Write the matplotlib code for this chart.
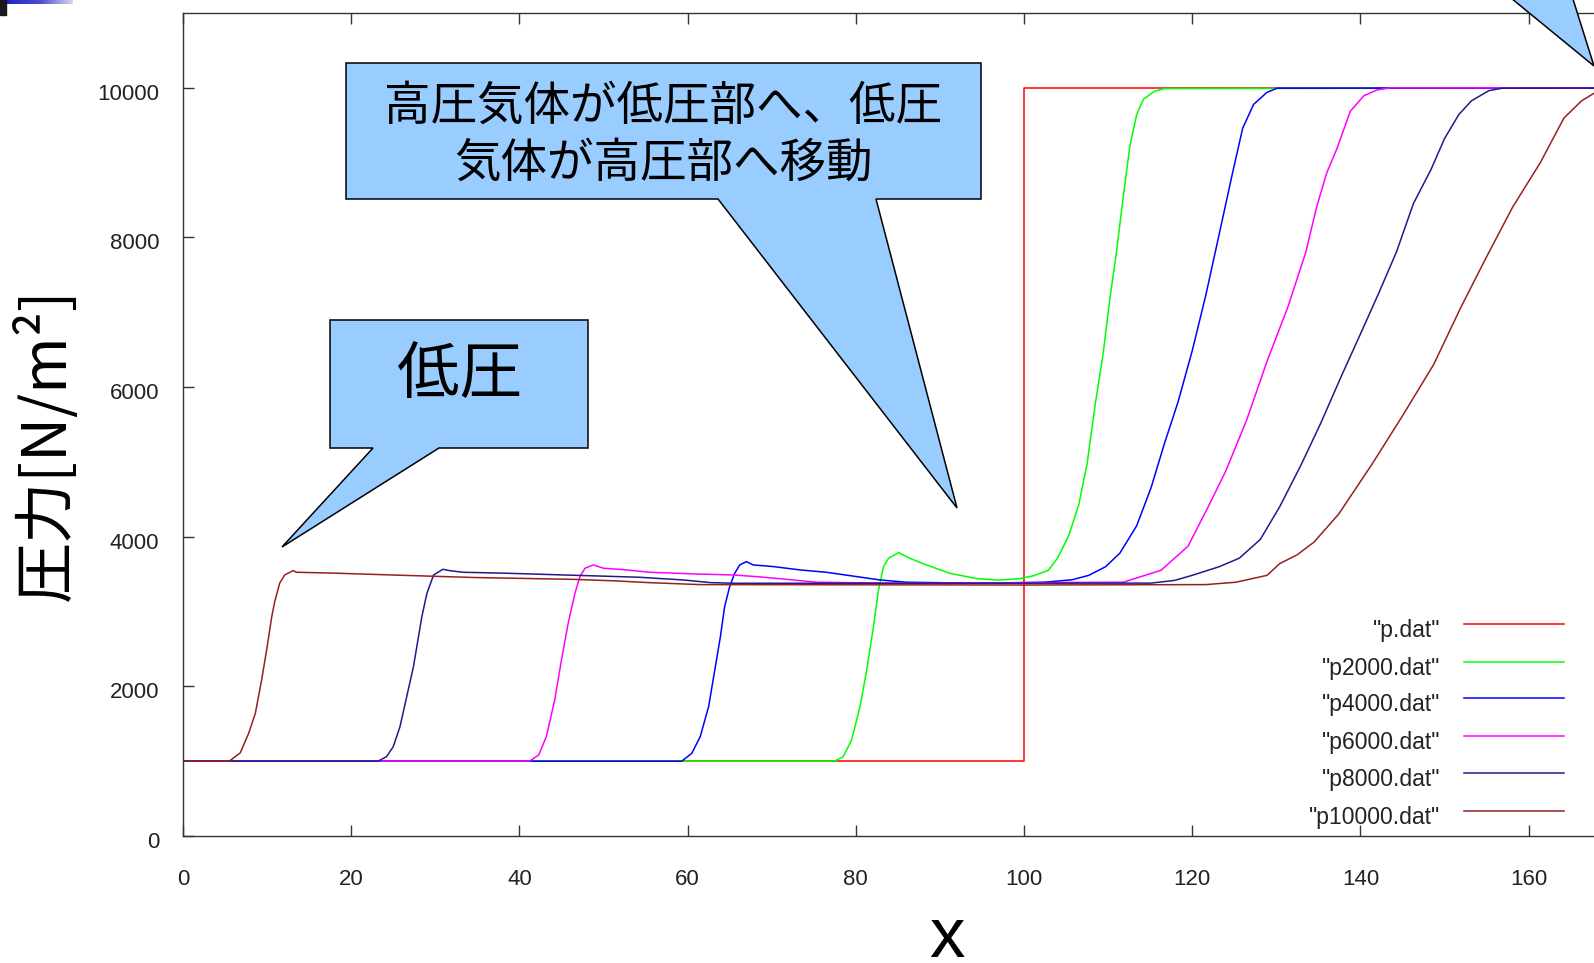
import matplotlib.pyplot as plt
import matplotlib.transforms as mtransforms
import numpy as np
from matplotlib.patches import Polygon
from matplotlib.lines import Line2D

W, H = 1594, 963

# pressure profiles read from the gnuplot data files
x_p = [0, 100, 100, 200]
p_p = [1000, 1000, 10000, 10000]

x_p2000 = [0, 77.5, 78.5, 79.5, 80.5, 81.3, 82.1, 82.7, 83.3, 83.9, 85.1, 86.4,
           88.4, 91.2, 94.4, 97.0, 99.5, 101.2, 102.9, 104.0, 105.3, 106.5,
           107.5, 108.5, 109.4, 110.2, 111.0, 111.8, 112.6, 113.4, 114.2,
           115.5, 116.7, 200]
p_p2000 = [1000, 1000, 1060, 1283, 1729, 2219, 2798, 3289, 3601, 3713, 3788,
           3713, 3623, 3511, 3440, 3420, 3440, 3480, 3552, 3716, 4010, 4422,
           4973, 5795, 6437, 7170, 7810, 8543, 9230, 9642, 9848, 9953, 9990,
           10000]

x_p4000 = [0, 59.3, 60.5, 61.5, 62.5, 63.3, 63.9, 64.4, 65.0, 65.6, 66.2, 67.0,
           67.8, 70.2, 73.4, 76.5, 79.3, 82.9, 86.0, 95.2, 102.4, 105.7, 107.7,
           109.7, 111.4, 113.4, 115.1, 116.7, 118.3, 120.0, 121.6, 123.2,
           124.8, 126.0, 127.3, 128.9, 130.1, 200]
p_p4000 = [1000, 1000, 1105, 1328, 1729, 2263, 2664, 3065, 3332, 3511, 3623,
           3667, 3623, 3601, 3556, 3525, 3480, 3422, 3392, 3378, 3392, 3424,
           3484, 3599, 3781, 4147, 4652, 5246, 5795, 6484, 7219, 8039, 8864,
           9458, 9779, 9940, 9995, 10000]

x_p6000 = [0, 41.2, 42.3, 43.2, 44.2, 45.0, 45.8, 46.6, 47.2, 47.8, 48.8, 50.0,
           52.4, 55.5, 60.7, 65.4, 68.2, 72.6, 75.3, 84.5, 111.8, 116.3, 119.5,
           122.0, 124.0, 126.5, 128.9, 131.4, 133.5, 134.8, 136.0, 137.2,
           138.8, 140.4, 142.0, 143.6, 200]
p_p6000 = [1000, 1000, 1083, 1328, 1818, 2353, 2843, 3244, 3467, 3579, 3623,
           3579, 3560, 3525, 3503, 3489, 3467, 3422, 3392, 3378, 3392, 3552,
           3873, 4422, 4880, 5567, 6345, 7078, 7800, 8409, 8864, 9185, 9687,
           9893, 9973, 10000, 10000]

x_p8000 = [0, 23.2, 24.2, 25.0, 25.8, 26.6, 27.4, 28.0, 28.4, 29.0, 29.8, 30.9,
           31.7, 33.3, 38.5, 45.2, 49.2, 54.3, 59.5, 62.7, 65.4, 115.1, 117.9,
           120.0, 123.2, 125.6, 128.1, 130.4, 132.9, 135.3, 137.8, 140.2,
           142.2, 144.3, 146.3, 148.4, 150.0, 151.7, 153.2, 155.3, 156.9, 200]
p_p8000 = [1000, 1000, 1060, 1194, 1461, 1862, 2263, 2664, 2931, 3243, 3489,
           3565, 3547, 3525, 3512, 3489, 3476, 3458, 3422, 3387, 3378, 3380,
           3416, 3484, 3599, 3713, 3964, 4400, 4950, 5521, 6163, 6758, 7261,
           7810, 8452, 8909, 9321, 9642, 9826, 9963, 9995, 10000]

x_p10000 = [0, 5.5, 6.8, 7.8, 8.6, 9.35, 9.95, 10.55, 10.9, 11.5, 12.1, 13.1,
            13.5, 17.5, 24.5, 34.6, 46.5, 51.4, 55.5, 61.5, 100.0, 121.6, 125.2,
            128.9, 130.4, 132.5, 134.5, 137.4, 141.4, 145.0, 148.7, 152.0,
            154.9, 158.1, 161.4, 164.2, 166.3, 168.3, 170.0, 200]
p_p10000 = [1000, 1000, 1110, 1370, 1640, 2085, 2490, 2930, 3130, 3380, 3490,
            3547, 3525, 3515, 3490, 3455, 3430, 3410, 3386, 3360, 3355, 3360,
            3392, 3484, 3640, 3760, 3930, 4300, 4973, 5615, 6299, 7078, 7719,
            8405, 9001, 9596, 9826, 9963, 10000, 10000]

series_x = [x_p, x_p2000, x_p4000, x_p6000, x_p8000, x_p10000]
series_p = [p_p, p_p2000, p_p4000, p_p6000, p_p8000, p_p10000]
labels = ['"p.dat"', '"p2000.dat"', '"p4000.dat"', '"p6000.dat"',
          '"p8000.dat"', '"p10000.dat"']
colors = ['#ff0000', '#00ff00', '#0000ff', '#ff00ff', '#1c1c8c', '#962020']

xticks = [0, 20, 40, 60, 80, 100, 120, 140, 160]
yticks = [0, 2000, 4000, 6000, 8000, 10000]


def fx(px):
    return px / W


def fy(py):
    return 1 - py / H


fig = plt.figure(figsize=(W / 100, H / 100), dpi=100)

# plot frame runs off the right side of the slide
ax = fig.add_axes([fx(183), fy(836), 1682 / W, (836 - 13) / H])
for xs, ps, c in zip(series_x, series_p, colors):
    ax.plot(xs, ps, color=c, lw=1.1)
ax.set_xlim(0, 200)
ax.set_ylim(0, 11000)
ax.set_xticks(xticks)
ax.set_yticks(yticks)
ax.tick_params(direction='in', length=8, width=1.0, top=True, right=True,
               labelsize=16, labelcolor='#222222', color='#333333')
ax.tick_params(axis='x', pad=24)
ax.tick_params(axis='y', pad=17)
for lab in ax.get_xticklabels() + ax.get_yticklabels():
    lab.set_family('Liberation Sans')
# gnuplot sets the y labels a little below their ticks
drop = mtransforms.ScaledTranslation(0, -0.04, fig.dpi_scale_trans)
for lab in ax.get_yticklabels():
    lab.set_transform(lab.get_transform() + drop)
for sp in ax.spines.values():
    sp.set_color('#333333')
    sp.set_linewidth(1.0)

# key, gnuplot style: label on the left, sample line on the right
key_y = [624, 662, 698, 736, 773, 811]
for lab, c, ky in zip(labels, colors, key_y):
    fig.text(fx(1440), fy(ky + 13), lab, ha='right', va='baseline',
             fontsize=16.5, family='Liberation Sans', color='#222222')
    fig.add_artist(Line2D([fx(1464), fx(1564)], [fy(ky), fy(ky)],
                          color=c, lw=1.1))

fig.text(fx(947), fy(957), 'x', ha='center', va='baseline', fontsize=51,
         family='Liberation Sans')
fig.text(fx(46), fy(444), '圧力[N/m²]', rotation=90, ha='center',
         va='center', fontsize=44, family=['Noto Sans CJK JP', 'DejaVu Sans'])

# callout balloons
balloon = dict(facecolor='#99ccff', edgecolor='black', lw=1.1,
               transform=fig.transFigure, clip_on=False)


def callout(pts):
    fig.add_artist(Polygon([(fx(a), fy(b)) for a, b in pts], closed=True,
                           **balloon))


callout([(346, 63), (981, 63), (981, 199), (876, 199), (957, 508),
         (718, 199), (346, 199)])
fig.text(fx(663), fy(106), '高圧気体が低圧部へ、低圧', ha='center',
         va='center', fontsize=33.5, family='Noto Sans CJK JP')
fig.text(fx(663), fy(163), '気体が高圧部へ移動', ha='center',
         va='center', fontsize=33.5, family='Noto Sans CJK JP')

callout([(330, 320), (588, 320), (588, 448), (439, 448), (282, 547),
         (373, 448), (330, 448)])
fig.text(fx(459), fy(376), '低圧', ha='center', va='center', fontsize=45,
         family='Noto Sans CJK JP')

callout([(1594, 66), (1489, -20), (1567, -20)])

# slide decoration in the top-left corner
fig.add_artist(plt.Rectangle((0, fy(15)), fx(6), 15 / H, color='#1a1a1a',
                             transform=fig.transFigure))
deco = fig.add_axes([fx(6), fy(4.5), 67 / W, 4.5 / H])
deco.imshow(np.linspace(0, 1, 64)[None, :], aspect='auto',
            cmap=plt.matplotlib.colors.LinearSegmentedColormap.from_list(
                'bar', ['#2323c3', '#4a4ad0', '#d5d5f2']))
deco.set_axis_off()

fig.savefig('out.png', dpi=100)
